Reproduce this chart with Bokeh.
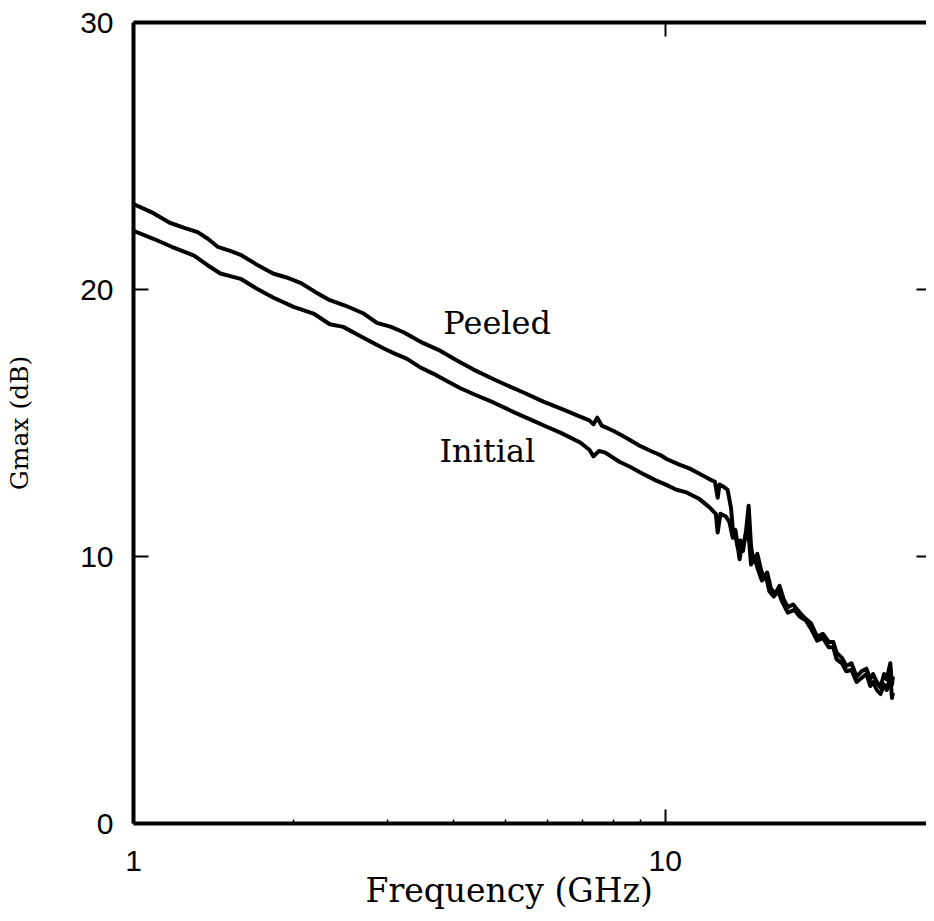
from bokeh.plotting import figure
from bokeh.models import LinearAxis, LogAxis, FixedTicker, Label, Range1d, Title
from bokeh.embed import file_html
from bokeh.resources import INLINE

# ---- data ----
freq_peeled = [1.00, 1.08, 1.17, 1.25, 1.32, 1.38, 1.44, 1.52, 1.59, 1.70, 1.83, 1.94,
               2.06, 2.20, 2.34, 2.50, 2.71, 2.87, 3.05, 3.22, 3.50, 3.78, 4.05, 4.36,
               4.80, 5.40, 5.90, 6.35, 6.90, 7.20, 7.33, 7.45, 7.60, 8.00, 8.44, 8.95,
               9.40, 9.79, 10.06, 10.6, 11.1, 11.6, 12.1, 12.4, 12.55, 12.65, 12.9, 13.1,
               13.3, 13.4, 13.55, 13.7, 13.85, 14.0, 14.2, 14.35, 14.5, 14.65, 14.9, 15.1,
               15.3, 15.55, 15.8, 16.1, 16.4, 16.7, 17.0, 17.4, 17.9, 18.3, 18.8, 19.3,
               19.8, 20.3, 20.7, 21.0, 21.5, 21.9, 22.4, 22.9, 23.4, 23.9, 24.3, 24.6,
               25.0, 25.4, 25.8, 26.1, 26.5, 26.7, 26.8]
gmax_peeled = [23.2, 22.9, 22.5, 22.3, 22.15, 21.9, 21.6, 21.45, 21.3, 20.95, 20.6, 20.45,
               20.25, 19.9, 19.6, 19.4, 19.1, 18.75, 18.6, 18.4, 18.0, 17.7, 17.35, 17.0,
               16.6, 16.15, 15.8, 15.55, 15.25, 15.1, 14.95, 15.2, 14.9, 14.7, 14.45, 14.15,
               13.95, 13.8, 13.65, 13.45, 13.3, 13.1, 12.9, 12.8, 12.2, 12.7, 12.6, 12.5,
               11.8, 11.0, 10.8, 10.3, 10.6, 10.2, 11.0, 11.9, 10.4, 9.8, 10.1, 9.6,
               9.2, 9.4, 8.8, 8.6, 8.9, 8.4, 8.1, 8.2, 7.9, 7.7, 7.5, 7.0,
               7.1, 6.8, 6.8, 6.4, 6.2, 5.9, 6.0, 5.5, 5.7, 5.8, 5.4, 5.6,
               5.3, 5.1, 5.6, 5.4, 6.0, 5.2, 5.5]

freq_initial = [1.00, 1.09, 1.18, 1.30, 1.38, 1.457, 1.52, 1.59, 1.70, 1.83, 2.00, 2.18,
                2.34, 2.48, 2.70, 2.95, 3.10, 3.27, 3.45, 3.66, 3.90, 4.12, 4.40, 4.75,
                5.20, 5.64, 6.00, 6.35, 6.92, 7.20, 7.33, 7.50, 7.70, 8.20, 8.60, 9.07,
                9.60, 10.0, 10.5, 10.97, 11.6, 12.1, 12.45, 12.55, 12.7, 13.0, 13.2, 13.4,
                13.55, 13.8, 13.95, 14.1, 14.3, 14.5, 14.7, 14.95, 15.2, 15.45, 15.7, 16.0,
                16.3, 16.6, 17.0, 17.5, 17.9, 18.4, 18.8, 19.3, 19.8, 20.3, 20.7, 21.0,
                21.5, 21.9, 22.4, 22.9, 23.4, 23.9, 24.3, 24.6, 25.0, 25.4, 25.8, 26.1,
                26.5, 26.7, 26.8]
gmax_initial = [22.2, 21.9, 21.6, 21.27, 20.9, 20.6, 20.5, 20.4, 20.05, 19.7, 19.35, 19.1,
                18.7, 18.6, 18.2, 17.8, 17.6, 17.4, 17.1, 16.85, 16.55, 16.3, 16.05, 15.77,
                15.4, 15.09, 14.85, 14.64, 14.27, 14.0, 13.75, 13.95, 13.9, 13.55, 13.35, 13.1,
                12.85, 12.7, 12.5, 12.4, 12.15, 11.85, 11.6, 10.9, 11.6, 11.5, 11.3, 10.7,
                11.0, 9.9, 10.5, 10.6, 11.2, 9.7, 10.0, 9.5, 9.1, 9.3, 8.7, 8.5,
                8.7, 8.3, 7.9, 8.0, 7.75, 7.6, 7.3, 6.85, 6.95, 6.6, 6.6, 6.15,
                6.0, 5.7, 5.75, 5.3, 5.45, 5.6, 5.15, 5.3, 5.0, 4.85, 5.2, 5.0,
                5.5, 4.7, 4.9]

x_major_ticks = [1, 10]
x_minor_ticks = [2, 3, 4, 5, 6, 7, 8, 9]
x_tick_labels = {1: "1", 10: "10"}
y_ticks = [0, 10, 20, 30]
y_tick_labels = {0: "0", 10: "10", 20: "20", 30: "30"}

x_label = "Frequency (GHz)"
y_label = "Gmax (dB)"
series_labels = ["Peeled", "Initial"]

INK = "black"
SERIF = "DejaVu Serif"
SANS = "Liberation Sans"

p = figure(width=926, height=913, x_axis_type="log",
           x_range=Range1d(1, 31), y_range=Range1d(0, 30),
           output_backend="svg", toolbar_location=None,
           min_border_left=133, min_border_right=0,
           min_border_top=22, min_border_bottom=90)
p.outline_line_color = None
p.xgrid.grid_line_color = None
p.ygrid.grid_line_color = None
p.background_fill_color = "white"

p.line(freq_peeled, gmax_peeled, line_width=4, line_color=INK, line_join="round")
p.line(freq_initial, gmax_initial, line_width=4, line_color=INK, line_join="round")

# bottom axis
xa = p.xaxis[0]
xa.ticker = FixedTicker(ticks=x_major_ticks, minor_ticks=x_minor_ticks)
xa.major_label_overrides = x_tick_labels
xa.axis_line_width = 4
xa.axis_line_color = INK
xa.major_tick_in = 14
xa.major_tick_out = 0
xa.major_tick_line_width = 2
xa.minor_tick_in = 4
xa.minor_tick_out = 0
xa.minor_tick_line_width = 1.5
xa.major_label_standoff = 27
xa.major_label_text_font = SANS
xa.major_label_text_font_size = "30px"
xa.major_label_text_color = INK

# x-axis title, placed slightly left of the frame centre as in the reference
p.add_layout(Title(text=x_label, align="left", offset=232,
                   text_font=SERIF, text_font_size="33px",
                   text_font_style="normal", text_color=INK, standoff=-10), "below")

# left axis
ya = p.yaxis[0]
ya.ticker = FixedTicker(ticks=y_ticks, minor_ticks=[])
ya.major_label_overrides = y_tick_labels
ya.axis_line_width = 4
ya.axis_line_color = INK
ya.major_tick_in = 15
ya.major_tick_out = 0
ya.major_tick_line_width = 2
ya.minor_tick_line_color = None
ya.major_label_standoff = 20
ya.major_label_text_font = SANS
ya.major_label_text_font_size = "30px"
ya.major_label_text_color = INK
ya.axis_label = y_label
ya.axis_label_text_font = SERIF
ya.axis_label_text_font_size = "25px"
ya.axis_label_text_font_style = "normal"
ya.axis_label_text_color = INK
ya.axis_label_standoff = 43

# top axis (frame line + inward tick)
top = LogAxis(ticker=FixedTicker(ticks=[10], minor_ticks=[]),
              axis_line_width=4, axis_line_color=INK,
              major_tick_in=14, major_tick_out=0, major_tick_line_width=2,
              minor_tick_line_color=None,
              major_label_overrides={10: " "},
              major_label_text_font_size="1px", major_label_text_color=None,
              major_label_standoff=0)
p.add_layout(top, "above")

# right axis (ticks only)
right = LinearAxis(ticker=FixedTicker(ticks=y_ticks, minor_ticks=[]),
                   axis_line_color=None,
                   major_tick_in=10, major_tick_out=0, major_tick_line_width=2,
                   minor_tick_line_color=None,
                   major_label_overrides={0: " ", 10: " ", 20: " ", 30: " "},
                   major_label_text_font_size="1px", major_label_text_color=None,
                   major_label_standoff=0)
p.add_layout(right, "right")

# curve annotations
p.add_layout(Label(x=4.83, y=18.73, text=series_labels[0], text_align="center",
                   text_baseline="middle", text_font=SERIF,
                   text_font_size="32px", text_color=INK))
p.add_layout(Label(x=4.63, y=13.97, text=series_labels[1], text_align="center",
                   text_baseline="middle", text_font=SERIF,
                   text_font_size="32px", text_color=INK))

open("out.html", "w").write(file_html(p, INLINE))
